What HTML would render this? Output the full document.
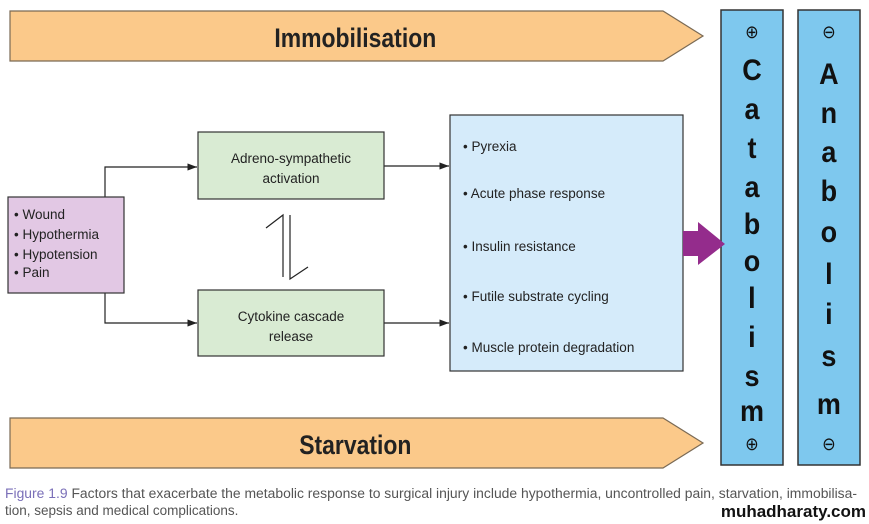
<!DOCTYPE html>
<html><head><meta charset="utf-8"><style>
html,body{margin:0;padding:0;background:#fff;}
svg{display:block;}
text{font-family:"Liberation Sans",sans-serif;}
</style></head><body>
<svg width="869" height="524" viewBox="0 0 869 524" xmlns="http://www.w3.org/2000/svg">
<defs><marker id="ah" markerWidth="8" markerHeight="6" refX="8" refY="3" orient="auto"><path d="M0,0 L8,3 L0,6 z" fill="#222"/></marker></defs>
<polygon points="10,11 663,11 703,36 663,61 10,61" fill="#fbc98a" stroke="#7a6a55" stroke-width="1.2"/>
<text x="418" y="47" font-size="27" font-weight="bold" text-anchor="middle" fill="#222" transform="scale(0.85,1)">Immobilisation</text>
<polygon points="10,418 663,418 703,443 663,468 10,468" fill="#fbc98a" stroke="#7a6a55" stroke-width="1.2"/>
<text x="418" y="454" font-size="27" font-weight="bold" text-anchor="middle" fill="#222" transform="scale(0.85,1)">Starvation</text>
<rect x="721" y="10" width="62" height="455" fill="#7ec8ee" stroke="#333" stroke-width="1.5"/>
<rect x="798" y="10" width="62" height="455" fill="#7ec8ee" stroke="#333" stroke-width="1.5"/>
<g font-size="30" font-weight="bold" text-anchor="middle" fill="#111" transform="scale(0.9,1)">
<text x="835.5" y="38" font-size="18" font-weight="normal">⊕</text>
<text x="835.5" y="80">C</text><text x="835.5" y="119">a</text><text x="835.5" y="158">t</text><text x="835.5" y="197">a</text><text x="835.5" y="234">b</text><text x="835.5" y="271">o</text><text x="835.5" y="308">l</text><text x="835.5" y="347">i</text><text x="835.5" y="386">s</text><text x="835.5" y="421">m</text>
<text x="835.5" y="450" font-size="18" font-weight="normal">⊕</text>
<text x="921" y="38" font-size="18" font-weight="normal">⊖</text>
<text x="921" y="84">A</text><text x="921" y="123">n</text><text x="921" y="162">a</text><text x="921" y="201">b</text><text x="921" y="242">o</text><text x="921" y="284">l</text><text x="921" y="324">i</text><text x="921" y="366">s</text><text x="921" y="414">m</text>
<text x="921" y="450" font-size="18" font-weight="normal">⊖</text>
</g>
<g stroke="#222" stroke-width="1.2" fill="none">
<polyline points="105,197 105,167 197,167" marker-end="url(#ah)"/>
<polyline points="105,293 105,323 197,323" marker-end="url(#ah)"/>
<line x1="384" y1="166" x2="449" y2="166" marker-end="url(#ah)"/>
<line x1="384" y1="323" x2="449" y2="323" marker-end="url(#ah)"/>
<polyline points="266,228 283,215 283,277"/>
<polyline points="290,215 290,279 308,267"/>
</g>
<rect x="8" y="197" width="116" height="96" fill="#e2c8e4" stroke="#333" stroke-width="1.2"/>
<g font-size="13.5" fill="#222">
<text x="14" y="219">• Wound</text><text x="14" y="239">• Hypothermia</text><text x="14" y="259">• Hypotension</text><text x="14" y="277">• Pain</text>
</g>
<rect x="198" y="132" width="186" height="67" fill="#d9ebd3" stroke="#333" stroke-width="1.2"/>
<text x="291" y="163" font-size="13.5" text-anchor="middle" fill="#222">Adreno-sympathetic</text>
<text x="291" y="183" font-size="13.5" text-anchor="middle" fill="#222">activation</text>
<rect x="198" y="290" width="186" height="66" fill="#d9ebd3" stroke="#333" stroke-width="1.2"/>
<text x="291" y="321" font-size="13.5" text-anchor="middle" fill="#222">Cytokine cascade</text>
<text x="291" y="341" font-size="13.5" text-anchor="middle" fill="#222">release</text>
<rect x="450" y="115" width="233" height="256" fill="#d5ebfa" stroke="#333" stroke-width="1.2"/>
<g font-size="13.5" fill="#222">
<text x="463" y="151">•  Pyrexia</text><text x="463" y="198">•  Acute phase response</text><text x="463" y="251">•  Insulin resistance</text><text x="463" y="301">•  Futile substrate cycling</text><text x="463" y="352">•  Muscle protein degradation</text>
</g>
<polygon points="683,231 698,231 698,222 725,244 698,265 698,256 683,256" fill="#942c8c"/>
<text x="5" y="498" font-size="13.5" fill="#555" textLength="852" lengthAdjust="spacingAndGlyphs"><tspan fill="#7a6fb8">Figure 1.9</tspan>  Factors that exacerbate the metabolic response to surgical injury include hypothermia, uncontrolled pain, starvation, immobilisa-</text>
<text x="5" y="515" font-size="13.5" fill="#555">tion, sepsis and medical complications.</text>
<text x="866" y="517" font-size="17" font-weight="bold" text-anchor="end" fill="#111">muhadharaty.com</text>
</svg>
</body></html>
